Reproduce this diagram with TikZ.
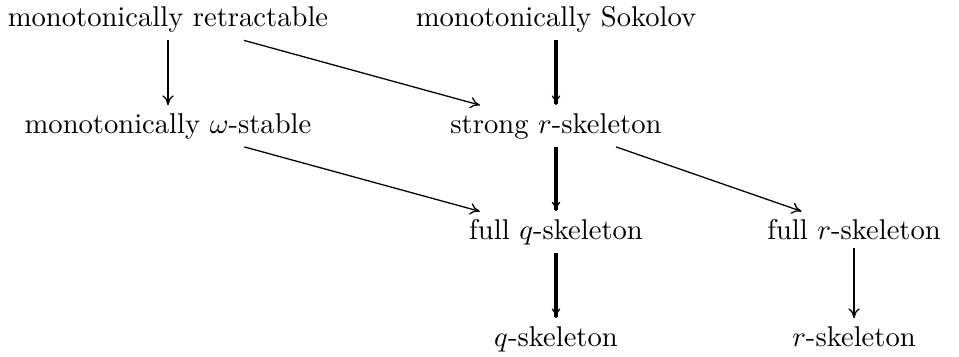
\documentclass[tikz,border=0pt]{standalone}
\usetikzlibrary{arrows.meta}
\begin{document}
\begin{tikzpicture}[x=0.3497pt,y=-0.3497pt,
  lbl/.style={anchor=base,inner sep=2.8pt,outer sep=0pt},
  thinarrow/.style={-{To[length=3.4pt,width=4pt,line width=0.45pt]},line width=0.45pt},
  thickarrow/.style={-{To[length=3.4pt,width=3pt,line width=0.45pt]},line width=1.15pt}]
\useasboundingbox (0,0) rectangle (959,356);
\node[lbl] (mr) at (168,26.5) {monotonically retractable};
\node[lbl] (ms) at (556,26.5) {monotonically Sokolov};
\node[lbl] (mw) at (168,133) {monotonically $\omega$-stable};
\node[lbl] (sr) at (556,133) {strong $r$-skeleton};
\node[lbl] (fq) at (556,239.5) {full $q$-skeleton};
\node[lbl] (fr) at (854,239.5) {full $r$-skeleton};
\node[lbl] (qs) at (556,346) {$q$-skeleton};
\node[lbl] (rs) at (854,346) {$r$-skeleton};
\draw[thinarrow] (mr) -- (mw);
\draw[thinarrow] (mr) -- (sr);
\draw[thickarrow] (ms) -- (sr);
\draw[thinarrow] (mw) -- (fq);
\draw[thickarrow] (sr) -- (fq);
\draw[thinarrow] (sr) -- (fr);
\draw[thickarrow] (fq) -- (qs);
\draw[thinarrow] (fr) -- (rs);
\end{tikzpicture}
\end{document}
